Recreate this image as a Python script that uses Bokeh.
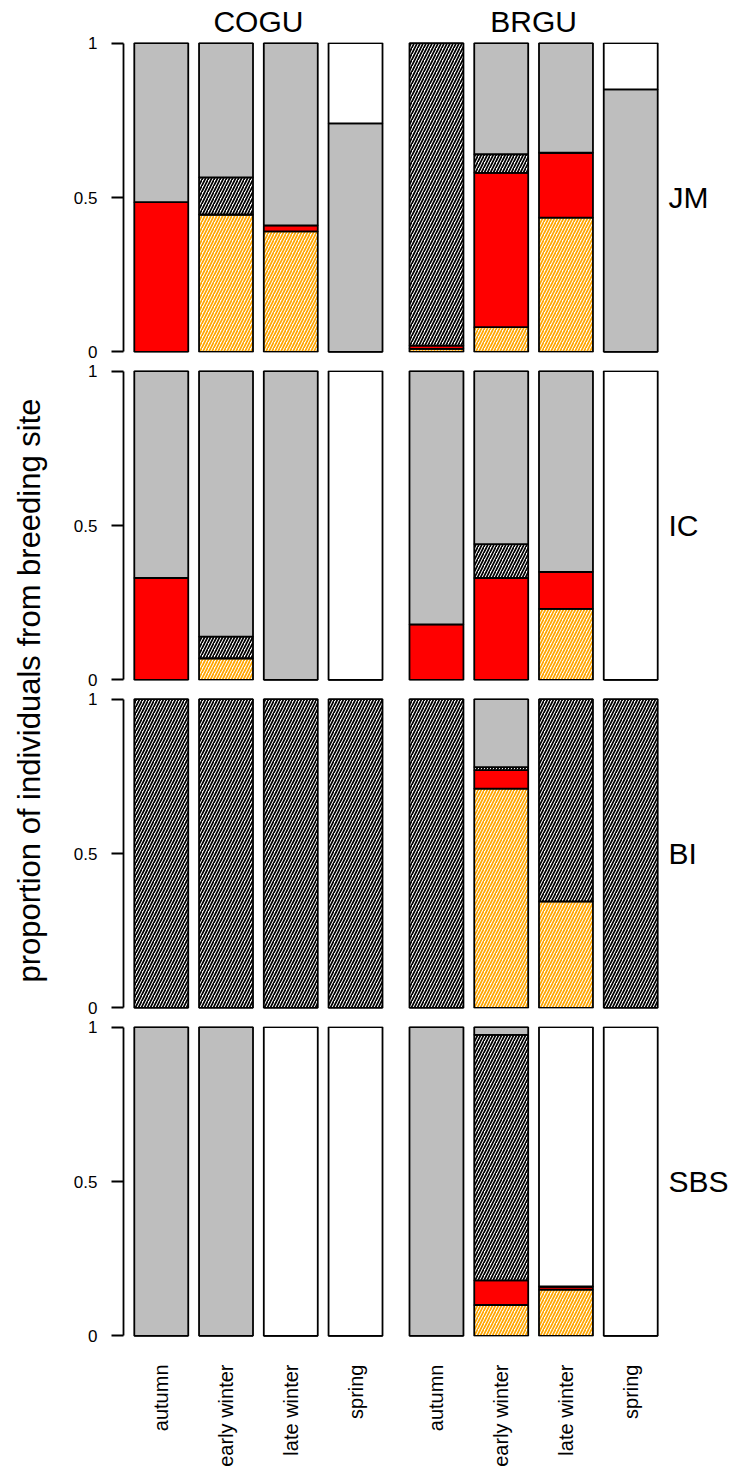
import math
from bokeh.plotting import figure
from bokeh.models import Range1d, LinearAxis, FixedTicker, Label, ColumnDataSource
from bokeh.layouts import row, column
from bokeh.embed import file_html
from bokeh.resources import INLINE

# ---------------- data ----------------
species = ["COGU", "BRGU"]
seasons = ["autumn", "early winter", "late winter", "spring"]
sites = ["JM", "IC", "BI", "SBS"]
y_ticks = [0, 0.5, 1]
y_tick_labels = ["0", "0.5", "1"]
y_title = "proportion of individuals from breeding site"

# stacked segments, bottom -> top; each list = COGU (4 seasons) then BRGU (4 seasons)
orange_hatched = {
    "JM":  [0.0, 0.445, 0.39, 0.0, 0.01, 0.08, 0.435, 0.0],
    "IC":  [0.0, 0.07, 0.0, 0.0, 0.0, 0.0, 0.23, 0.0],
    "BI":  [0.0, 0.0, 0.0, 0.0, 0.0, 0.71, 0.345, 0.0],
    "SBS": [0.0, 0.0, 0.0, 0.0, 0.0, 0.10, 0.15, 0.0],
}
red = {
    "JM":  [0.485, 0.0, 0.02, 0.0, 0.01, 0.50, 0.21, 0.0],
    "IC":  [0.33, 0.0, 0.0, 0.0, 0.18, 0.33, 0.12, 0.0],
    "BI":  [0.0, 0.0, 0.0, 0.0, 0.0, 0.06, 0.0, 0.0],
    "SBS": [0.0, 0.0, 0.0, 0.0, 0.0, 0.08, 0.01, 0.0],
}
black_hatched = {
    "JM":  [0.0, 0.12, 0.0, 0.0, 0.98, 0.06, 0.0, 0.0],
    "IC":  [0.0, 0.07, 0.0, 0.0, 0.0, 0.11, 0.0, 0.0],
    "BI":  [1.0, 1.0, 1.0, 1.0, 1.0, 0.01, 0.655, 1.0],
    "SBS": [0.0, 0.0, 0.0, 0.0, 0.0, 0.795, 0.0, 0.0],
}
grey = {
    "JM":  [0.515, 0.435, 0.59, 0.74, 0.0, 0.36, 0.355, 0.85],
    "IC":  [0.67, 0.86, 1.0, 0.0, 0.82, 0.56, 0.65, 0.0],
    "BI":  [0.0, 0.0, 0.0, 0.0, 0.0, 0.22, 0.0, 0.0],
    "SBS": [1.0, 1.0, 0.0, 0.0, 1.0, 0.025, 0.0, 0.0],
}
white = {
    "JM":  [0.0, 0.0, 0.0, 0.26, 0.0, 0.0, 0.0, 0.15],
    "IC":  [0.0, 0.0, 0.0, 1.0, 0.0, 0.0, 0.0, 1.0],
    "BI":  [0.0, 0.0, 0.0, 0.0, 0.0, 0.0, 0.0, 0.0],
    "SBS": [0.0, 0.0, 1.0, 1.0, 0.0, 0.0, 0.84, 1.0],
}

# ---------------- styles ----------------
stack_names = ["orange_hatched", "red", "black_hatched", "grey", "white"]
stack_data = [orange_hatched, red, black_hatched, grey, white]
fills = ["white", "#FF0000", "white", "#BEBEBE", "white"]
hatches = ["/", None, "/", None, None]
hatch_cols = ["#FFA500", "black", "black", "black", "black"]
FONT = "Liberation Sans"
LW = 1.8

# bar geometry (R barplot style: width 1, space 0.2, extra gap between species)
BAR_W = 1.0
STEP = 1.2
GROUP_GAP = 0.3
n_s = len(seasons)
xs = [0.7 + STEP * i + GROUP_GAP * (i // n_s) for i in range(len(species) * n_s)]
x_labels = seasons * len(species)
x_range = Range1d(0, 10.1)
group_centers = [sum(xs[g * n_s:(g + 1) * n_s]) / n_s for g in range(len(species))]

LAB_W = 58
FIG_W = 673
tops = [42, 9, 9, 9]
bottoms = [9, 9, 9, 139]
FRAME_H = 310
heights = [t + FRAME_H + b for t, b in zip(tops, bottoms)]


def plain_axis(**kw):
    base = dict(axis_line_color=None, major_tick_line_color=None,
                major_tick_out=0, major_tick_in=0, minor_tick_line_color=None,
                minor_tick_out=0, minor_tick_in=0, major_label_text_font=FONT,
                major_label_text_color="black")
    base.update(kw)
    return LinearAxis(**base)


figs = []
for k, site in enumerate(sites):
    p = figure(width=FIG_W, height=heights[k], x_range=x_range,
               y_range=Range1d(-0.002, 1.002), output_backend="svg",
               toolbar_location=None, tools="", x_axis_location=None,
               y_axis_location=None, min_border_left=65, min_border_right=0,
               min_border_top=tops[k], min_border_bottom=bottoms[k],
               outline_line_color=None, background_fill_color="white",
               border_fill_color="white")
    p.grid.visible = False

    src_dict = {"x": xs}
    for name, d in zip(stack_names, stack_data):
        src_dict[name] = d[site]
    src = ColumnDataSource(src_dict)
    p.vbar_stack(stack_names, x="x", width=BAR_W, source=src,
                 fill_color=fills, hatch_pattern=hatches, hatch_color=hatch_cols,
                 hatch_scale=6, hatch_weight=1.7,
                 line_color="black", line_width=LW)

    yax = LinearAxis(ticker=FixedTicker(ticks=y_ticks),
                     major_label_overrides={t: l for t, l in zip(y_ticks, y_tick_labels)},
                     bounds=(0, 1), axis_line_width=LW, axis_line_color="black",
                     major_tick_line_width=LW, major_tick_line_color="black",
                     major_tick_out=12, major_tick_in=0,
                     minor_tick_line_color=None, major_label_standoff=14,
                     major_label_text_font=FONT, major_label_text_font_size="17px",
                     major_label_text_color="black")
    p.add_layout(yax, "left")

    # row (site) label on the right
    p.add_layout(plain_axis(ticker=FixedTicker(ticks=[0.5]),
                            major_label_overrides={0.5: site},
                            major_label_standoff=0,
                            major_label_text_font_size="30px"), "right")

    if k == 0:
        p.add_layout(plain_axis(ticker=FixedTicker(ticks=group_centers),
                                major_label_overrides={c: s for c, s in zip(group_centers, species)},
                                major_label_standoff=5,
                                major_label_text_font_size="30px"), "above")
    if k == len(sites) - 1:
        p.add_layout(plain_axis(ticker=FixedTicker(ticks=xs),
                                major_label_overrides={x: l for x, l in zip(xs, x_labels)},
                                major_label_orientation=math.pi / 2,
                                major_label_standoff=28,
                                major_label_text_font_size="20px"), "below")
    figs.append(p)

# y title figure
total_h = sum(heights)
lab = figure(width=LAB_W, height=total_h, x_range=Range1d(0, LAB_W),
             y_range=Range1d(0, total_h), output_backend="svg",
             toolbar_location=None, tools="", x_axis_location=None,
             y_axis_location=None, min_border=0, outline_line_color=None)
lab.grid.visible = False
lab.add_layout(Label(x=29, y=total_h - 690, text=y_title, angle=math.pi / 2,
                     text_align="center", text_baseline="middle",
                     text_font=FONT, text_font_size="31px", text_color="black"))

layout = row(lab, column(*figs))
open("out.html", "w").write(file_html(layout, INLINE))
